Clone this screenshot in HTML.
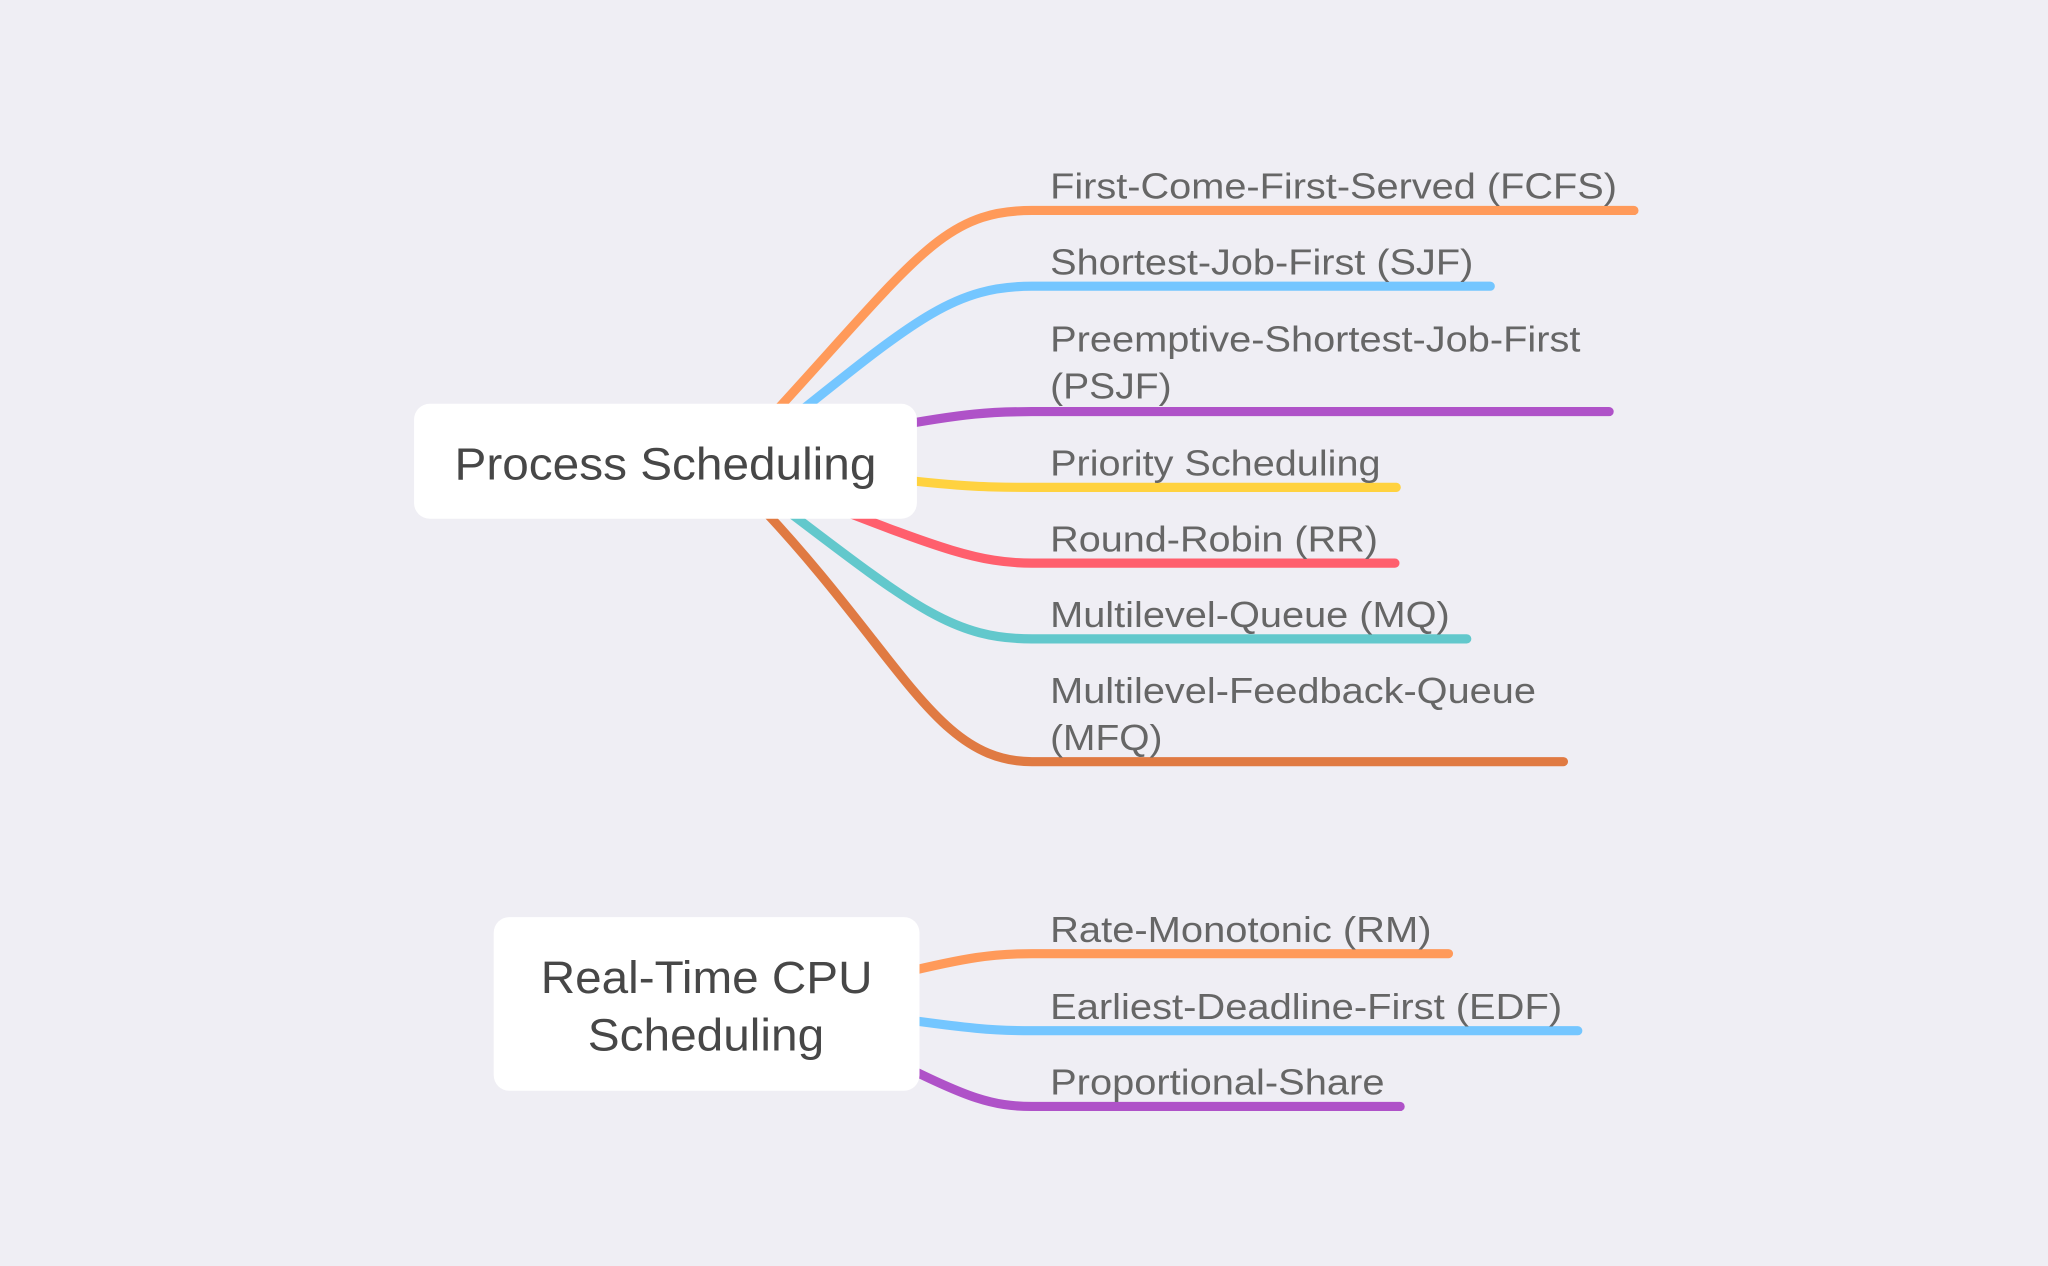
<!DOCTYPE html>
<html><head><meta charset="utf-8"><style>
html,body{margin:0;padding:0;background:#EFEEF4;}
svg{display:block;}
text{font-family:"Liberation Sans",Arial,sans-serif;}
</style></head><body>
<svg width="2048" height="1266" viewBox="0 0 1568 969" xmlns="http://www.w3.org/2000/svg">
<rect width="1568" height="969" fill="#EFEEF4"/>
<g fill="none" stroke-width="7" stroke-linecap="round">
<path d="M580 330 C700 200 720 161 790 161 L1251 161" stroke="#FF9A5A"/>
<path d="M600 325 C700 245 730 219 790 219 L1141 219" stroke="#74C6FF"/>
<path d="M680 327 C740 316 760 315 790 315 L1232 315" stroke="#AF52C8"/>
<path d="M680 366 C740 373 760 373 790 373 L1069 373" stroke="#FFD23F"/>
<path d="M630 385 C720 420 750 431 790 431 L1068 431" stroke="#FF5F6D"/>
<path d="M595 385 C700 465 730 489 790 489 L1123 489" stroke="#62C8CC"/>
<path d="M575 380 C690 500 715 583 790 583 L1197 583" stroke="#E07A42"/>
<path d="M690 745 C740 733 760 730 790 730 L1109 730" stroke="#FF9A5A"/>
<path d="M690 780 C740 787 760 789 790 789 L1208 789" stroke="#74C6FF"/>
<path d="M690 815 C740 840 760 847 790 847 L1072 847" stroke="#AF52C8"/>
</g>
<rect x="317" y="309" width="385" height="88" rx="12" fill="#fff"/>
<rect x="378" y="702" width="326" height="133" rx="12" fill="#fff"/>
<g fill="#474747" font-size="35">
<text x="348" y="367" textLength="323" lengthAdjust="spacingAndGlyphs">Process Scheduling</text>
<text x="414" y="760" textLength="254" lengthAdjust="spacingAndGlyphs">Real-Time CPU</text>
<text x="450" y="804" textLength="181" lengthAdjust="spacingAndGlyphs">Scheduling</text>
</g>
<g fill="#666" font-size="28">
<text x="804" y="152" textLength="434" lengthAdjust="spacingAndGlyphs">First-Come-First-Served (FCFS)</text>
<text x="804" y="210" textLength="324" lengthAdjust="spacingAndGlyphs">Shortest-Job-First (SJF)</text>
<text x="804" y="269" textLength="406" lengthAdjust="spacingAndGlyphs">Preemptive-Shortest-Job-First</text>
<text x="804" y="305" textLength="93" lengthAdjust="spacingAndGlyphs">(PSJF)</text>
<text x="804" y="364" textLength="253" lengthAdjust="spacingAndGlyphs">Priority Scheduling</text>
<text x="804" y="422" textLength="251" lengthAdjust="spacingAndGlyphs">Round-Robin (RR)</text>
<text x="804" y="480" textLength="306" lengthAdjust="spacingAndGlyphs">Multilevel-Queue (MQ)</text>
<text x="804" y="538" textLength="372" lengthAdjust="spacingAndGlyphs">Multilevel-Feedback-Queue</text>
<text x="804" y="574" textLength="86" lengthAdjust="spacingAndGlyphs">(MFQ)</text>
<text x="804" y="721" textLength="292" lengthAdjust="spacingAndGlyphs">Rate-Monotonic (RM)</text>
<text x="804" y="780" textLength="392" lengthAdjust="spacingAndGlyphs">Earliest-Deadline-First (EDF)</text>
<text x="804" y="838" textLength="256" lengthAdjust="spacingAndGlyphs">Proportional-Share</text>
</g>
</svg>
</body></html>
